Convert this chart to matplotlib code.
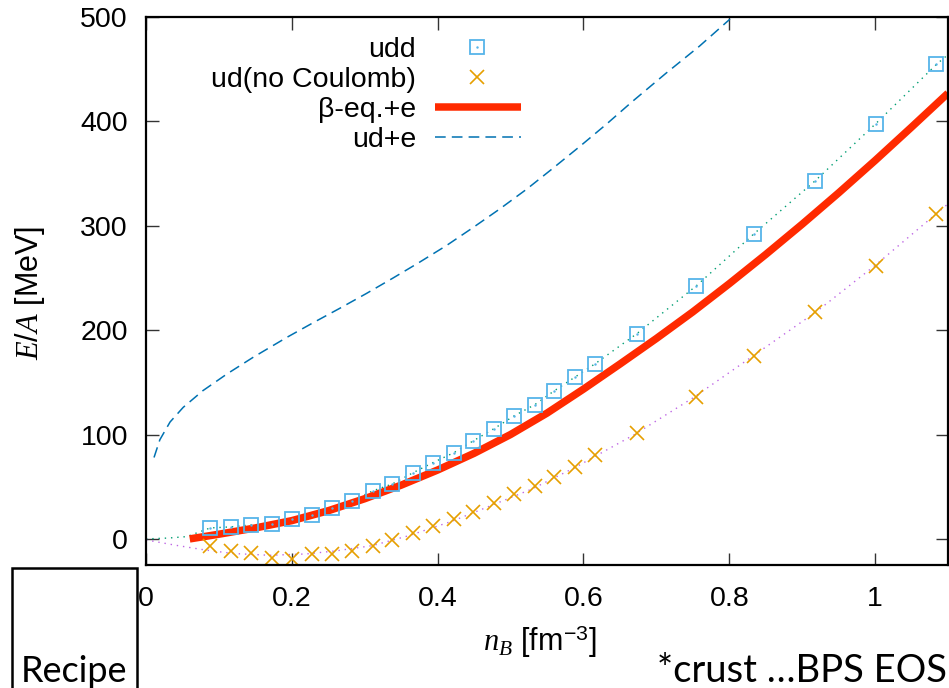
import matplotlib
matplotlib.use("Agg")
import matplotlib.pyplot as plt
from matplotlib.patches import Rectangle

# baryon densities of the udd / ud points [fm^-3]
n_points = [0.088, 0.116, 0.144, 0.173, 0.200, 0.227, 0.255, 0.282, 0.311, 0.338,
            0.366, 0.393, 0.422, 0.449, 0.477, 0.505, 0.533, 0.560, 0.589, 0.616,
            0.673, 0.755, 0.834, 0.918, 1.001, 1.084]
udd_e = [10.5, 11.5, 13.4, 14.4, 19.2, 23.0, 29.7, 36.4, 46.0, 52.7,
         63.3, 72.9, 82.5, 94.0, 105.5, 117.9, 128.5, 141.9, 155.3, 167.8,
         196.5, 242.6, 292.4, 343.2, 397.9, 454.5]
ud_e = [-6.7, -11.5, -13.4, -18.5, -19.0, -14.4, -14.4, -11.5, -6.7, -1.0,
        5.8, 12.0, 19.2, 25.9, 34.5, 43.1, 50.8, 59.4, 69.0, 80.5,
        101.6, 136.1, 175.5, 217.6, 261.7, 311.6]

# dotted guide curves
udd_fit_n = [0.0, 0.030, 0.056] + n_points + [1.10]
udd_fit_e = [0.0, 0.8, 2.2] + udd_e + [464.0]
ud_fit_n = [0.0, 0.04, 0.08, 0.12, 0.17, 0.22, 0.26, 0.31, 0.36, 0.42, 0.47,
            0.53, 0.59, 0.67, 0.75, 0.83, 0.92, 1.0, 1.1]
ud_fit_e = [-1.0, -6.0, -10.5, -14.0, -15.7, -14.4, -11.5, -6.5, 3.0, 17.0, 31.0,
            48.0, 69.0, 100.0, 135.0, 174.0, 218.0, 262.0, 321.0]

# beta-equilibrium + electrons
beta_n = [0.06, 0.10, 0.15, 0.20, 0.25, 0.30, 0.35, 0.40, 0.45, 0.50, 0.55,
          0.60, 0.65, 0.70, 0.75, 0.80, 0.85, 0.90, 0.95, 1.00, 1.05, 1.10]
beta_e = [0.0, 4.5, 10.5, 17.5, 27.0, 38.5, 51.5, 66.0, 82.0, 100.0, 120.5,
          143.5, 167.5, 192.0, 217.5, 244.5, 272.5, 301.5, 331.5, 362.5, 394.5, 427.0]

# ud + electrons
ude_n = [0.011, 0.019, 0.033, 0.051, 0.078, 0.111, 0.147, 0.193, 0.229, 0.266,
         0.302, 0.339, 0.375, 0.412, 0.448, 0.485, 0.522, 0.558, 0.595, 0.631,
         0.667, 0.713, 0.759, 0.801]
ude_e = [78, 95, 112, 126, 142, 158, 174, 193, 207, 221,
         235, 250, 265, 281, 298, 316, 335, 355, 376, 397,
         419, 446, 472, 498]

labels = ["udd", "ud(no Coulomb)", "β-eq.+e", "ud+e"]
x_ticks = [0, 0.2, 0.4, 0.6, 0.8, 1]
x_ticklabels = ["0", "0.2", "0.4", "0.6", "0.8", "1"]
y_ticks = [0, 100, 200, 300, 400, 500]

plt.rcParams["font.family"] = ["Liberation Sans", "DejaVu Sans"]
plt.rcParams["mathtext.fontset"] = "custom"
plt.rcParams["mathtext.rm"] = "Liberation Sans"
plt.rcParams["mathtext.it"] = "Liberation Serif:italic"

W, H = 949, 688
fig = plt.figure(figsize=(W / 100, H / 100), dpi=100)
ax = fig.add_axes([146 / W, (H - 565) / H, 802 / W, 548 / H])

c_green = "#009e73"
c_purple = "#9400d3"
c_sky = "#56b4e9"
c_orange = "#e69f00"
c_red = "#ff2a00"
c_blue = "#0072b2"

ax.plot(udd_fit_n, udd_fit_e, ls=(0, (1, 3.5)), color=c_green, lw=1.0)
ax.plot(ud_fit_n, ud_fit_e, ls=(0, (1, 3.5)), color=c_purple, lw=1.0, alpha=0.6)
ax.plot(ude_n, ude_e, ls=(0, (7, 4)), color=c_blue, lw=1.1)
ax.plot(beta_n, beta_e, color=c_red, lw=5.4, solid_capstyle="butt")
sq_style = dict(ls="none", marker="s", ms=10, mfc="none", mec=c_sky, mew=1.3)
x_style = dict(ls="none", marker="x", ms=10, mec=c_orange, mew=1.2)
ax.plot(n_points, udd_e, **sq_style)
ax.plot(n_points, udd_e, ls="none", marker=".", ms=1.5, color=c_sky)
ax.plot(n_points, ud_e, **x_style)

ax.set_xlim(0, 1.1)
ax.set_ylim(-25, 500)
ax.set_xticks(x_ticks)
ax.set_xticklabels(x_ticklabels)
ax.set_yticks(y_ticks)
ax.tick_params(direction="in", length=9, width=1.0, top=True, right=True,
               labelsize=20.5, color="#333333")
ax.tick_params(axis="x", pad=15)
ax.tick_params(axis="y", pad=13)
for sp in ax.spines.values():
    sp.set_linewidth(1.6)

# gnuplot-style key: text right-aligned, sample on the right
key_text_x = (416 - 146) / 802
key_x0, key_x1, key_xm = (435 - 146) / 802, (521 - 146) / 802, (477 - 146) / 802
row_mid = [(565 - y) / 548 for y in (47, 77, 107, 137)]
row_base = [(565 - y) / 548 for y in (56.7, 86.7, 116.7, 146.7)]
for lab, yb in zip(labels, row_base):
    ax.text(key_text_x, yb, lab, transform=ax.transAxes, ha="right",
            va="baseline", fontsize=20.5)
ax.plot([key_xm], [row_mid[0]], transform=ax.transAxes, **sq_style)
ax.plot([key_xm], [row_mid[0]], transform=ax.transAxes, ls="none",
        marker=".", ms=1.5, color=c_sky)
ax.plot([key_xm], [row_mid[1]], transform=ax.transAxes, **x_style)
ax.plot([key_x0, key_x1], [row_mid[2]] * 2, transform=ax.transAxes,
        color=c_red, lw=5.4, solid_capstyle="butt")
ax.plot([key_x0, key_x1], [row_mid[3]] * 2, transform=ax.transAxes,
        color=c_blue, lw=1.1, ls=(0, (7, 4)))

fig.text(30 / W, 1 - 293 / H, r"$E/A$ [MeV]", rotation=90, ha="center",
         va="center", fontsize=22)
fig.text(540 / W, 1 - 642 / H, r"$n_B$ [fm$^{\mathrm{-3}}$]", ha="center",
         va="center", fontsize=22)

# slide annotations
fig.patches.append(Rectangle((12 / W, -20 / H), 125 / W, (H + 20 - 568) / H,
                             transform=fig.transFigure, fill=False,
                             edgecolor="black", lw=1.8))
fig.text(21 / W, 1 - 682 / H, "Recipe", family="Lato", fontsize=26,
         ha="left", va="baseline")
fig.text(947 / W, 1 - 682 / H, "*crust \u2026BPS EOS", family="Lato",
         fontsize=27.5, ha="right", va="baseline")

fig.savefig("out.png", dpi=100)
